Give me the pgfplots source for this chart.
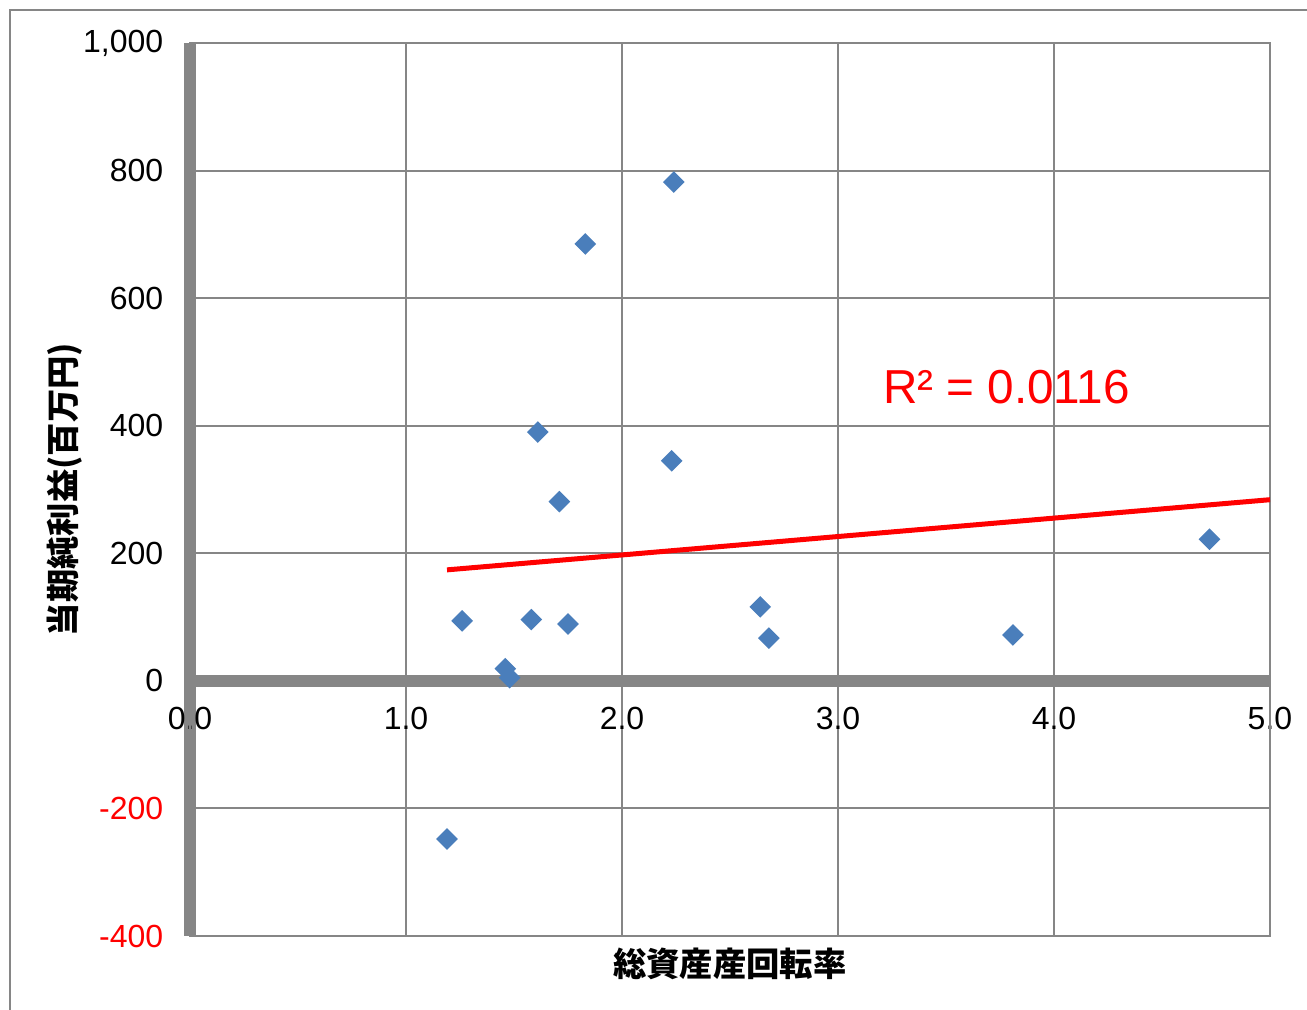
\documentclass[border=0pt]{standalone}
\usepackage{pgfplots}
\pgfplotsset{compat=1.18}
\usepackage{fontspec}
\setmainfont{Liberation Sans}
\newfontfamily\jp{Noto Sans CJK JP}
\definecolor{axisgray}{RGB}{134,134,134}
\definecolor{markblue}{RGB}{74,126,187}
\begin{document}
\begin{tikzpicture}
% page = 1307x1010 px at 0.3pt/px
\useasboundingbox (0,0) rectangle (392.1pt,303pt);
\draw[axisgray, line width=0.6pt] (3pt,0pt) -- (3pt,300pt) -- (392.1pt,300pt);
\begin{axis}[
    at={(57pt,22.2pt)}, anchor=south west,
    scale only axis,
    width=324pt, height=267.9pt,
    xmin=0, xmax=5, ymin=-400, ymax=1000,
    axis lines=middle,
    axis line style={draw=axisgray, line width=3.6pt, -},
    hide obscured x ticks=false,
    hide obscured y ticks=false,
    xtick={0,1,2,3,4,5},
    xticklabels={0.0,1.0,2.0,3.0,4.0,5.0},
    ytick={-400,-200,0,200,400,600,800,1000},
    yticklabels={\textcolor{red}{-400},\textcolor{red}{-200},0,200,400,600,800,{1,000}},
    major tick length=0pt,
    grid=major,
    grid style={draw=axisgray, line width=0.6pt},
    tick label style={font=\fontsize{9.6}{11}\selectfont},
    x tick label style={anchor=north, yshift=-4.5pt},
    y tick label style={anchor=east, xshift=-4.5pt},
    xlabel={\jp\bfseries 総資産産回転率},
    ylabel={\jp\bfseries 当期純利益(百万円)},
    label style={font=\fontsize{9.2}{11}\selectfont},
    every axis x label/.style={at={(rel axis cs:0.5,0)}, anchor=north, yshift=0pt},
    every axis y label/.style={at={(rel axis cs:0,0.5)}, xshift=-37.5pt, anchor=center, rotate=90},
    clip=false,
]
\draw[axisgray, line width=0.6pt] (rel axis cs:0,0) rectangle (rel axis cs:1,1);
% trendline
\addplot[red, line width=1.5pt] coordinates {(1.19,174) (5,284)};
% data
\addplot[only marks, mark=square*, mark size=2.1pt,
    mark options={rotate=45, fill=markblue, draw=markblue}] coordinates {
(1.19,-248) (1.26,94) (1.46,19) (1.48,5) (1.58,96) (1.61,390) (1.71,281)
(1.75,89) (1.83,685) (2.24,782) (2.23,345) (2.64,116) (2.68,67)
(3.81,72) (4.72,222)
};
\node[red, font=\fontsize{14.3}{16}\selectfont] at (axis cs:3.78,461) {R² = 0.0116};
\end{axis}
\end{tikzpicture}
\end{document}
